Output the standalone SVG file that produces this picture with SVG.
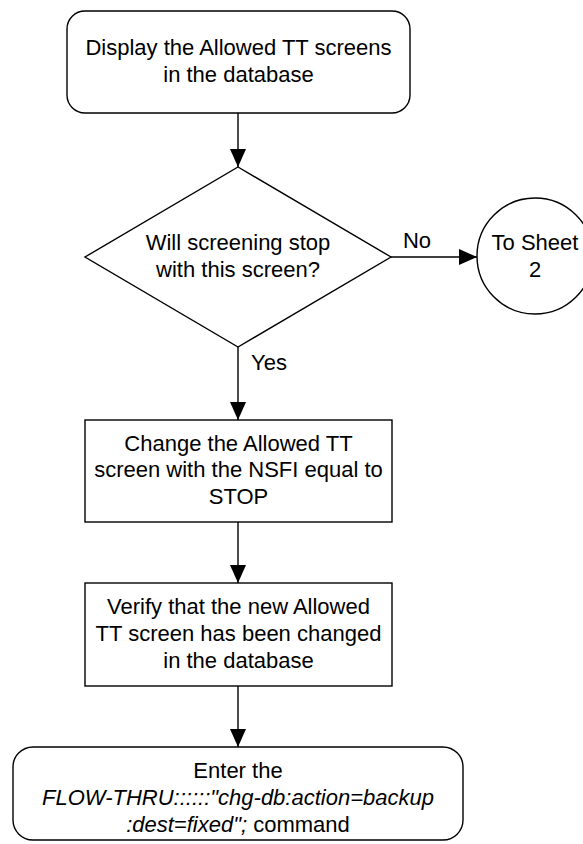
<svg xmlns="http://www.w3.org/2000/svg" width="583" height="844" viewBox="0 0 583 844">
<style>
.s{fill:#fff;stroke:#000;stroke-width:1.4}
.t{font-family:"Liberation Sans",Arial,sans-serif;font-size:22px;fill:#000;text-anchor:middle}
.i{font-style:italic}
.c{stroke:#000;stroke-width:1.4;fill:none}
</style>
<defs>
<marker id="a" markerUnits="userSpaceOnUse" markerWidth="18" markerHeight="18" refX="18" refY="8" orient="auto">
<path d="M0,0 L18,8 L0,16 Z" fill="#000"/>
</marker>
</defs>
<g id="connectors">
<line class="c" x1="238" y1="113" x2="238" y2="167" marker-end="url(#a)"/>
<line class="c" x1="391" y1="257" x2="477" y2="257" marker-end="url(#a)"/>
<line class="c" x1="238" y1="347" x2="238" y2="420" marker-end="url(#a)"/>
<line class="c" x1="238" y1="522" x2="238" y2="583" marker-end="url(#a)"/>
<line class="c" x1="238" y1="686" x2="238" y2="747" marker-end="url(#a)"/>
<text class="t" x="417" y="248">No</text>
<text class="t" x="269" y="370">Yes</text>
</g>
<g id="start">
<rect class="s" x="67" y="11" width="343" height="102" rx="18"/>
<text class="t" x="238.5" y="55">Display the Allowed TT screens</text>
<text class="t" x="238.5" y="82">in the database</text>
</g>
<g id="decision">
<polygon class="s" points="238,167 391,257 238,347 85,257"/>
<text class="t" x="238" y="250">Will screening stop</text>
<text class="t" x="238" y="277">with this screen?</text>
</g>
<g id="sheet2">
<circle class="s" cx="535" cy="256" r="58"/>
<text class="t" x="535" y="250">To Sheet</text>
<text class="t" x="535" y="277">2</text>
</g>
<g id="change">
<rect class="s" x="85" y="420" width="307" height="102"/>
<text class="t" x="238.5" y="451">Change the Allowed TT</text>
<text class="t" x="238.5" y="477">screen with the NSFI equal to</text>
<text class="t" x="238.5" y="504">STOP</text>
</g>
<g id="verify">
<rect class="s" x="85" y="583" width="307" height="103"/>
<text class="t" x="238.5" y="614">Verify that the new Allowed</text>
<text class="t" x="238.5" y="641">TT screen has been changed</text>
<text class="t" x="238.5" y="668">in the database</text>
</g>
<g id="end">
<rect class="s" x="13" y="747" width="450" height="93" rx="20"/>
<text class="t" x="238" y="778">Enter the</text>
<text class="t i" x="238" y="805">FLOW-THRU::::::"chg-db:action=backup</text>
<text class="t" x="238" y="832"><tspan class="i">:dest=fixed";</tspan> command</text>
</g>
</svg>
